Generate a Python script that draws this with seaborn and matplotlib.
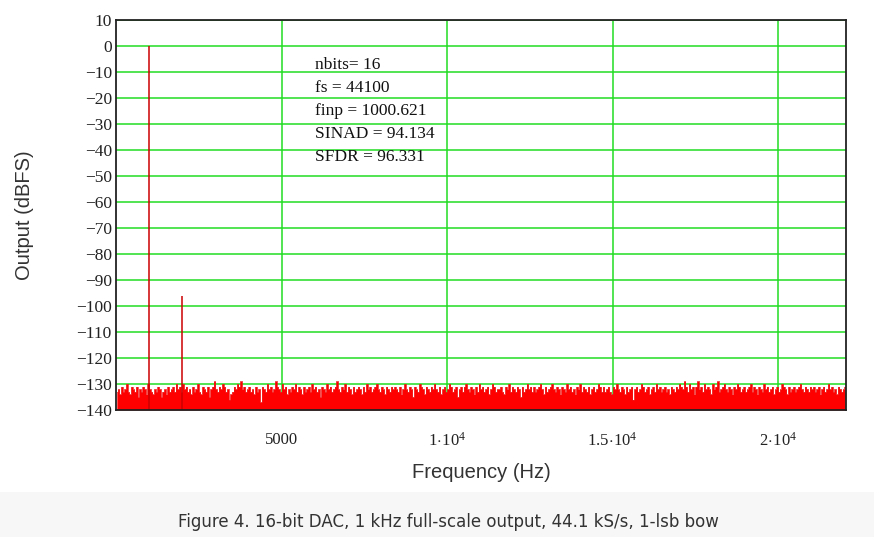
import numpy as np
import pandas as pd
import matplotlib
matplotlib.use("Agg")
import matplotlib.pyplot as plt
import seaborn as sns
from matplotlib.patches import Rectangle

# ---- data ----
fs = 44100
f_max = 22050
bin_width = 50  # Hz, noise-floor bins
signal_freqs = [1000.621, 2001.2]       # fundamental, 2nd harmonic
signal_levels = [0.0, -96.3]            # dBFS

noise_floor = [
    -133, -132, -134, -131, -133, -132, -130, -133, -134, -131, -132, -133, -131, -135, -132, -133, -131, -132, -134, -130, -132,
    -133, -134, -132, -133, -131, -132, -135, -133, -132, -134, -131, -133, -132, -131, -133, -130, -132, -131, -133, -130, -132,
    -131, -133, -132, -134, -131, -133, -132, -130, -133, -134, -131, -132, -133, -131, -135, -132, -131, -129, -132, -133, -131,
    -132, -130, -131, -133, -132, -136, -134, -133, -131, -132, -130, -131, -129, -132, -131, -133, -132, -131, -133, -132, -134,
    -131, -133, -132, -137, -131, -132, -133, -130, -132, -131, -133, -132, -129, -131, -132, -133, -130, -132, -131, -134, -132,
    -133, -131, -132, -130, -133, -131, -132, -134, -131, -133, -132, -131, -133, -130, -132, -131, -133, -132, -135, -131, -132,
    -133, -130, -132, -131, -133, -132, -131, -129, -132, -133, -131, -132, -130, -133, -131, -132, -134, -131, -133, -132, -131,
    -132, -134, -131, -133, -130, -132, -131, -133, -132, -131, -130, -132, -133, -131, -132, -134, -131, -132, -133, -131, -132,
    -131, -132, -133, -131, -134, -132, -130, -132, -133, -131, -132, -135, -131, -132, -133, -130, -131, -132, -134, -131, -132,
    -133, -131, -132, -130, -132, -133, -131, -134, -132, -131, -133, -132, -130, -131, -133, -132, -131, -135, -132, -131, -133,
    -131, -130, -132, -133, -131, -132, -134, -131, -133, -130, -132, -131, -133, -132, -131, -134, -132, -130, -131, -133, -132,
    -132, -131, -133, -134, -131, -132, -130, -133, -131, -132, -133, -131, -132, -135, -131, -133, -132, -130, -132, -131, -133,
    -131, -133, -132, -131, -130, -132, -134, -131, -133, -132, -131, -130, -132, -133, -131, -132, -134, -131, -132, -133, -130,
    -132, -131, -133, -132, -134, -131, -132, -130, -133, -131, -132, -133, -131, -134, -132, -131, -133, -132, -130, -131, -133,
    -131, -133, -132, -131, -133, -134, -131, -132, -130, -132, -133, -131, -132, -134, -131, -133, -132, -131, -136, -132, -131,
    -133, -132, -130, -131, -133, -132, -131, -134, -132, -131, -133, -130, -132, -131, -133, -132, -131, -133, -132, -134, -131,
    -132, -133, -131, -132, -130, -131, -132, -129, -131, -133, -130, -132, -131, -134, -131, -129, -132, -131, -133, -130, -132,
    -131, -132, -134, -130, -132, -131, -129, -133, -132, -131, -130, -132, -133, -131, -132, -134, -131, -132, -130, -131, -133,
    -132, -131, -133, -132, -131, -130, -133, -131, -132, -134, -131, -132, -133, -130, -132, -131, -133, -132, -131, -134, -132,
    -131, -133, -132, -130, -131, -132, -134, -131, -133, -132, -131, -133, -132, -131, -130, -132, -133, -131, -132, -133, -131,
    -132, -131, -133, -132, -131, -134, -132, -131, -133, -132, -130, -132, -131, -133, -132, -134, -131, -132, -133, -132, -131,
]

y_ticks = list(range(-140, 11, 10))
x_ticks = [5000, 10000, 15000, 20000]
x_tick_labels = ["5000", r"$1\!\cdot\!10^{4}$", r"$1.5\!\cdot\!10^{4}$", r"$2\!\cdot\!10^{4}$"]
stats_lines = ["nbits= 16", "fs = 44100", "finp = 1000.621", "SINAD = 94.134", "SFDR = 96.331"]
caption = "Figure 4. 16-bit DAC, 1 kHz full-scale output, 44.1 kS/s, 1-lsb bow"

# ---- style ----
sns.set_style("white")
plt.rcParams["mathtext.fontset"] = "custom"
plt.rcParams["mathtext.rm"] = "Liberation Serif"
plt.rcParams["mathtext.it"] = "Liberation Serif:italic"
plt.rcParams["mathtext.bf"] = "Liberation Serif:bold"

serif = "Liberation Serif"
sans = "Liberation Sans"

fig = plt.figure(figsize=(8.74, 5.37), dpi=100)
fig.patch.set_facecolor("white")
ax = fig.add_axes([116 / 874, 1 - 410 / 537, (846 - 116) / 874, (410 - 20) / 537])

df = pd.DataFrame({
    "freq": np.arange(len(noise_floor)) * bin_width + bin_width / 2,
    "level": noise_floor,
})

# grid
for yt in y_ticks:
    ax.axhline(yt, color="#22dd22", lw=1.1, zorder=1)
for xt in x_ticks:
    ax.axvline(xt, color="#22dd22", lw=1.1, zorder=1)

# noise floor
ax.fill_between(df["freq"], -140, df["level"], step="mid", color="#ff0000", lw=0, zorder=2)
sns.lineplot(data=df, x="freq", y="level", ax=ax, drawstyle="steps-mid",
             color="#ee1111", lw=0.5, zorder=3, legend=False)

# tones
ax.vlines(signal_freqs, -140, signal_levels, color="#cc0000", lw=1.1, zorder=4)

ax.set_xlim(0, f_max)
ax.set_ylim(-140, 10)
ax.set_yticks(y_ticks)
ax.set_yticklabels([str(v).replace("-", "\u2212") for v in y_ticks], fontfamily=serif, fontsize=12.5, color="#222222")
ax.set_xticks(x_ticks)
ax.set_xticklabels(x_tick_labels, fontfamily=serif, fontsize=12, color="#222222")
ax.tick_params(axis="y", length=0, pad=3)
ax.tick_params(axis="x", length=0, pad=16)
ax.set_xlabel("")
ax.set_ylabel("")

for sp in ax.spines.values():
    sp.set_color("#222222")
    sp.set_linewidth(1.3)
    sp.set_visible(True)
    sp.set_zorder(6)

# statistics text block
for i, line in enumerate(stats_lines):
    fig.text(315 / 874, 1 - (65 + i * 23) / 537, line, fontfamily=serif, fontsize=12.5,
             color="#111111", va="center", ha="left")

# axis labels
fig.text(25 / 874, 1 - 215 / 537, "Output (dBFS)", rotation=90, fontfamily=sans, fontsize=14.5,
         color="#333333", ha="center", va="center")
fig.text(481 / 874, 1 - 472 / 537, "Frequency (Hz)", fontfamily=sans, fontsize=14.5,
         color="#333333", ha="center", va="center")

# caption band
fig.patches.append(Rectangle((0, 0), 1, (537 - 492) / 537, transform=fig.transFigure,
                             facecolor="#f7f7f7", edgecolor="none", zorder=0))
fig.text(448 / 874, 1 - 522 / 537, caption, fontfamily="DejaVu Sans", fontsize=12,
         color="#333333", ha="center", va="center")

fig.savefig("out.png", dpi=100)
